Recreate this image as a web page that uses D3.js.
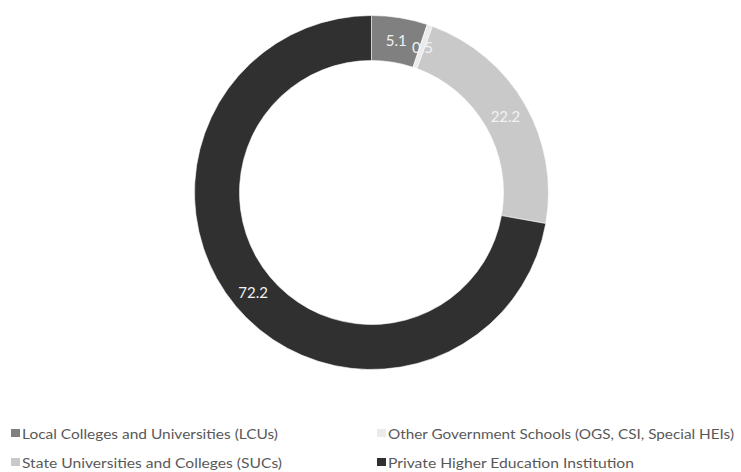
<!DOCTYPE html>
<html>
<head>
<meta charset="utf-8">
<script src="https://cdn.jsdelivr.net/npm/d3@7"></script>
<style>
  html, body { margin: 0; padding: 0; background: #fff; }
  svg { display: block; }
</style>
</head>
<body>
<svg id="chart" width="741" height="472"></svg>
<script>
// Share of higher education institutions by type (%)
const categories = [
  "Local Colleges and Universities (LCUs)",
  "Other Government Schools (OGS, CSI, Special HEIs)",
  "State Universities and Colleges (SUCs)",
  "Private Higher Education Institution"
];
const values = [5.1, 0.5, 22.2, 72.2];
const labels = ["5.1", "0.5", "22.2", "72.2"];
const colors = ["#808080", "#ebebeb", "#c9c9c9", "#303030"];

// Legend layout: grid order (row, column) for each category
const legendSlots = [
  { row: 0, col: 0 },
  { row: 0, col: 1 },
  { row: 1, col: 0 },
  { row: 1, col: 1 }
];
const legendWidths = [256, 346, 260, 246];

const width = 741, height = 472;
const cx = 371.5, cy = 192.5;
const outerR = 177, innerR = 132;
const font = "Lato, 'Open Sans', 'DejaVu Sans', sans-serif";

const svg = d3.select("#chart");

const pie = d3.pie().sort(null).value(d => d.value);
const arc = d3.arc().innerRadius(innerR).outerRadius(outerR);
const labelArc = d3.arc().innerRadius((innerR + outerR) / 2).outerRadius((innerR + outerR) / 2);

const data = categories.map((c, i) => ({ name: c, value: values[i], label: labels[i], color: colors[i] }));
const arcs = pie(data);

const g = svg.append("g").attr("transform", `translate(${cx},${cy})`);

g.selectAll("path.slice")
  .data(arcs)
  .join("path")
  .attr("class", "slice")
  .attr("d", arc)
  .attr("fill", d => d.data.color)
  .attr("stroke", "#ffffff")
  .attr("stroke-width", 0.6);

g.selectAll("text.value")
  .data(arcs)
  .join("text")
  .attr("class", "value")
  .attr("transform", d => `translate(${labelArc.centroid(d)})`)
  .attr("text-anchor", "middle")
  .attr("dominant-baseline", "central")
  .attr("font-family", font)
  .attr("font-size", 15)
  .attr("fill", "#f2f2f2")
  .text(d => d.data.label);

// Legend
const colX = [11, 377];
const rowY = [433, 462];
const leg = svg.append("g");
data.forEach((d, i) => {
  const s = legendSlots[i];
  const x = colX[s.col], y = rowY[s.row];
  leg.append("rect")
    .attr("x", x).attr("y", y - 4)
    .attr("width", 9).attr("height", 8)
    .attr("fill", d.color);
  leg.append("text")
    .attr("x", x + 11).attr("y", y)
    .attr("dominant-baseline", "central")
    .attr("font-family", font)
    .attr("font-size", 14)
    .attr("fill", "#595959")
    .attr("textLength", legendWidths[i])
    .attr("lengthAdjust", "spacingAndGlyphs")
    .text(d.name);
});
</script>
</body>
</html>
